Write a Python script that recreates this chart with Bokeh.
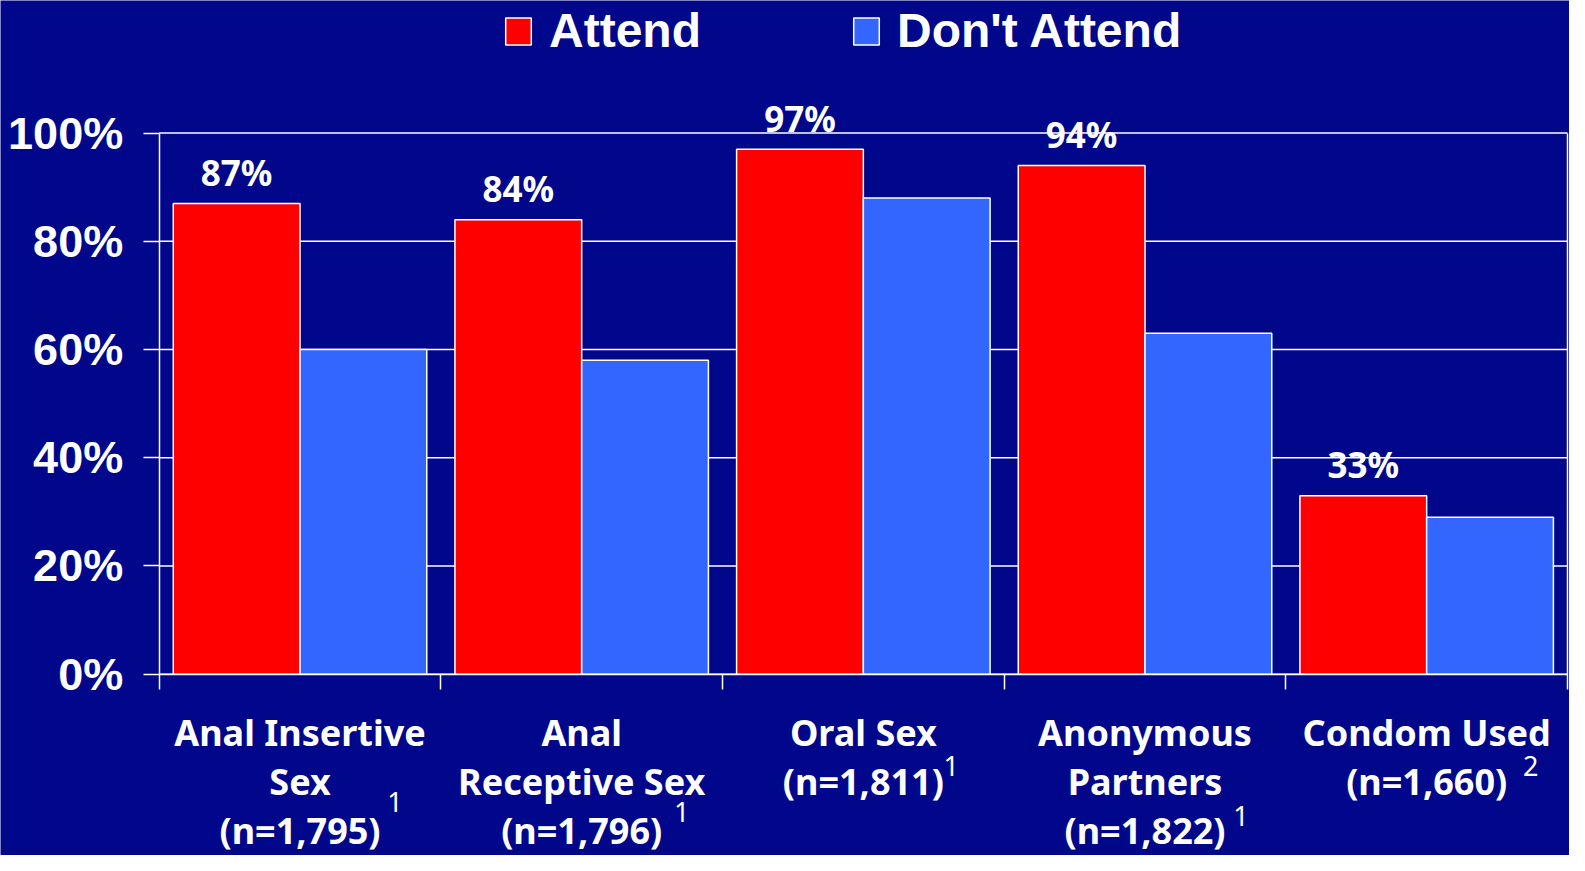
from bokeh.plotting import figure
from bokeh.models import (Legend, LegendItem, FixedTicker, PrintfTickFormatter,
                          Label, LabelSet, ColumnDataSource, Range1d, LinearAxis)
from bokeh.core.properties import value
from bokeh.embed import file_html
from bokeh.resources import INLINE

# ---------------- data ----------------
categories = [
    "Anal Insertive\nSex\n(n=1,795)",
    "Anal\nReceptive Sex\n(n=1,796)",
    "Oral Sex\n(n=1,811)",
    "Anonymous\nPartners\n(n=1,822)",
    "Condom Used\n(n=1,660)",
]
footnotes = ["1", "1", "1", "1", "2"]
attend = [87, 84, 97, 94, 33]
dont_attend = [60, 58, 88, 63, 29]
series_names = ["Attend", "Don't Attend"]
y_ticks = [0, 20, 40, 60, 80, 100]

# ---------------- style / positions ----------------
BG = "#00078a"
RED = "#FF0000"
BLUE = "#3366FF"
BAR_W = 0.45
CAT_FONT = "Noto Sans"
ARIAL = "Liberation Sans"
# superscript placement (screen px): x offset from category centre, y offset from the 0% line
sup_dx = [95, 100, 88, 96, 104]
sup_dy = [-128, -138, -92, -142, -92]
LINE_Y0 = -58      # first category-label line, px below the 0% line
LINE_STEP = 49     # px between label lines

n = len(categories)
idx = list(range(n))
red_x = [i + 0.5 - BAR_W / 2 for i in idx]
blue_x = [i + 0.5 + BAR_W / 2 for i in idx]

# the frame covers the whole canvas; the view window puts the 0-100% box where the
# reference draws it (y axis at x~159px, 0% at y~674px, 100% at y~133px of the canvas)
p = figure(width=1569, height=855, title=None,
           x_range=Range1d(-0.5634, n + 0.0071), y_range=Range1d(-33.5, 124.5),
           output_backend="svg", toolbar_location=None,
           min_border_left=0, min_border_right=0,
           min_border_top=0, min_border_bottom=0,
           background_fill_color=BG, border_fill_color=BG)
p.outline_line_color = None
p.xgrid.grid_line_color = None
p.ygrid.grid_line_color = None

# horizontal grid lines across the box, one per y tick
p.segment(x0=[0] * len(y_ticks), x1=[n] * len(y_ticks), y0=y_ticks, y1=y_ticks,
          line_color="white", line_width=1.5)

src_a = ColumnDataSource(dict(x=red_x, top=attend, label=[f"{v}%" for v in attend]))
src_d = ColumnDataSource(dict(x=blue_x, top=dont_attend))

r_a = p.vbar(x="x", top="top", bottom=0, width=BAR_W, source=src_a,
             fill_color=RED, line_color="white", line_width=1.5)
r_d = p.vbar(x="x", top="top", bottom=0, width=BAR_W, source=src_d,
             fill_color=BLUE, line_color="white", line_width=1.5)

# value labels above Attend bars
p.add_layout(LabelSet(x="x", y="top", text="label", source=src_a,
                      y_offset=31, text_align="center", text_baseline="middle",
                      text_color="white", text_font=value(CAT_FONT),
                      text_font_style="bold", text_font_size="35px"))

# left y axis, drawn at x=0
ya = p.yaxis[0]
ya.fixed_location = 0
ya.bounds = (0, 100)
ya.ticker = FixedTicker(ticks=y_ticks)
ya.formatter = PrintfTickFormatter(format="%d%%")
ya.axis_line_color = "white"
ya.axis_line_width = 1.5
ya.major_tick_line_color = "white"
ya.major_tick_line_width = 1.5
ya.major_tick_out = 16
ya.major_tick_in = 0
ya.minor_tick_line_color = None
ya.major_label_text_color = "white"
ya.major_label_text_font = ARIAL
ya.major_label_text_font_style = "bold"
ya.major_label_text_font_size = "45px"
ya.major_label_standoff = 20

# x axis drawn at the 0% line, ticks at category boundaries
xa = p.xaxis[0]
xa.fixed_location = 0
xa.bounds = (0, n)
xa.ticker = FixedTicker(ticks=list(range(n + 1)))
xa.axis_line_color = "white"
xa.axis_line_width = 1.5
xa.major_tick_line_color = "white"
xa.major_tick_line_width = 1.5
xa.major_tick_out = 15
xa.major_tick_in = 0
xa.minor_tick_line_color = None
xa.major_label_text_font_size = "0px"
xa.major_label_text_color = None

# right border of the plot box
ra = LinearAxis(fixed_location=n, bounds=(0, 100), ticker=FixedTicker(ticks=[]),
                axis_line_color="white", axis_line_width=1.5,
                major_tick_line_color=None, minor_tick_line_color=None,
                major_label_text_font_size="0px", major_label_text_color=None)
p.add_layout(ra, "right")

# category labels
for i, cat in enumerate(categories):
    for j, line in enumerate(cat.split("\n")):
        p.add_layout(Label(x=i + 0.5, y=0, y_offset=LINE_Y0 - LINE_STEP * j,
                           text=line, text_align="center", text_baseline="middle",
                           text_color="white", text_font=CAT_FONT,
                           text_font_style="bold", text_font_size="36px"))
    p.add_layout(Label(x=i + 0.5, x_offset=sup_dx[i], y=0, y_offset=sup_dy[i],
                       text=footnotes[i], text_align="center", text_baseline="middle",
                       text_color="white", text_font=CAT_FONT,
                       text_font_size="27px"))

legend = Legend(items=[LegendItem(label=series_names[0], renderers=[r_a]),
                       LegendItem(label=series_names[1], renderers=[r_d])],
                orientation="horizontal", location=(502, 797),
                glyph_width=32, glyph_height=34, label_standoff=15, spacing=149,
                padding=0, margin=0, border_line_color=None, background_fill_alpha=0,
                label_text_color="white", label_text_font=ARIAL,
                label_text_font_style="bold", label_text_font_size="48px")
p.add_layout(legend)

open("out.html", "w").write(file_html(p, INLINE))
